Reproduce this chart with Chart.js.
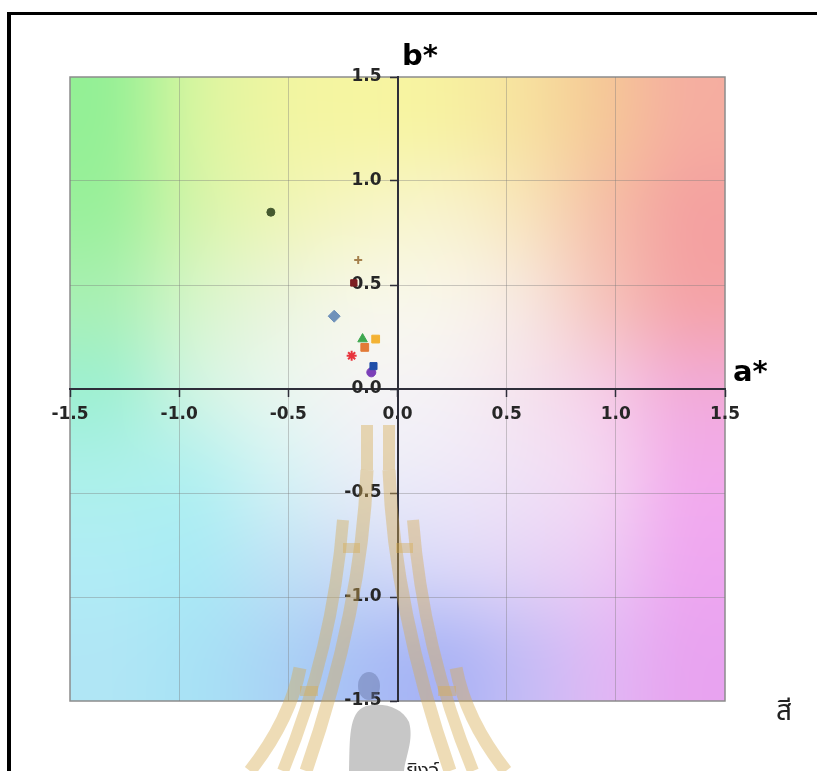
<!DOCTYPE html>
<html>
<head>
<meta charset="utf-8">
<script src="https://cdn.jsdelivr.net/npm/chart.js@4.4.1/dist/chart.umd.min.js"></script>
<style>
  html, body { margin: 0; padding: 0; background: #fff; overflow: hidden; }
  #wrap { position: relative; width: 817px; height: 771px; }
  #chart { position: absolute; left: 0; top: 0; }
  #frame { position: absolute; left: 7px; top: 12px; width: 900px; height: 900px;
           border-left: 4px solid #000; border-top: 3px solid #000; }
  .axname { position: absolute; font-family: "DejaVu Sans", Verdana, sans-serif;
            font-weight: bold; font-size: 29px; line-height: 1; color: #000; }
  .thai { position: absolute; font-family: "Noto Sans Thai", "Noto Sans", "DejaVu Sans", sans-serif;
          color: #222; line-height: 1; }
</style>
</head>
<body>
<div id="wrap">
  <canvas id="chart" width="817" height="771"></canvas>
  <div id="frame"></div>
  <div class="axname" style="left:402px; top:41px;">b*</div>
  <div class="axname" style="left:733px; top:357px;">a*</div>
  <div class="thai" style="left:776px; top:698px; font-size:28px;">สี</div>
  <div class="thai" style="left:406px; top:761px; font-size:20px;">ยิงจ์</div>
</div>
<script>
// a*, b* values of each sample
var aValues = [-0.58, -0.18, -0.20, -0.29, -0.15, -0.16, -0.10, -0.21, -0.11, -0.12];
var bValues = [0.85, 0.62, 0.51, 0.35, 0.20, 0.24, 0.24, 0.16, 0.11, 0.08];
var tickValues = [-1.5, -1.0, -0.5, 0.0, 0.5, 1.0, 1.5];

// marker look, one per sample
var markerColors = ['#45592f', '#a5804c', '#7d1f22', '#7092ba', '#e27b37', '#3ea84f', '#f3b233', '#e8343c', '#1f4ea8', '#7b3fb8'];
var markerShapes = ['circle', 'cross', 'rect', 'rectRot', 'rect', 'triangle', 'rect', 'star', 'rect', 'circle'];
var markerSizes = [4, 4, 4.5, 6, 5.5, 5.5, 5.5, 5, 5, 4.5];

// colour field behind the plot (rows top -> bottom, cols left -> right)
var bgColors = [
  ['#96f096', '#d6f5a0', '#eff5a2', '#f6f5a2', '#f7f2a2', '#f7e2a0', '#f5c898', '#f5aea0'],
  ['#9cf09c', '#d3f4aa', '#edf5b5', '#f6f5c4', '#f8f3cc', '#f8e5bc', '#f5c0a8', '#f4a2a0'],
  ['#aaf0b4', '#d5f5c8', '#eaf5da', '#f6f7e8', '#f9f6ea', '#f7e8e0', '#f5c4bc', '#f4a4a8'],
  ['#a0f0d2', '#cff4e2', '#e8f6ee', '#f4f4f4', '#f5f1f5', '#f5e4ee', '#f5cde6', '#f2acd8'],
  ['#acf0ea', '#b2f0f0', '#d2f2f4', '#e8eef7', '#eee9f8', '#f0e2f6', '#f4d4f2', '#f2acec'],
  ['#b0ecf5', '#aaeaf5', '#bde2f5', '#ccdaf6', '#dad8f8', '#e4d4f6', '#ecc8f4', '#eea8f0'],
  ['#b0e6f5', '#a8e2f5', '#aad4f5', '#aac0f5', '#aab4f5', '#c4bcf5', '#e0b8f4', '#e8a4f0']
];

function hexRgb(h){
  return [parseInt(h.substr(1,2),16), parseInt(h.substr(3,2),16), parseInt(h.substr(5,2),16)];
}

var bgCanvas = document.createElement('canvas');
bgCanvas.width = bgColors[0].length;
bgCanvas.height = bgColors.length;
(function(){
  var c = bgCanvas.getContext('2d');
  var img = c.createImageData(bgCanvas.width, bgCanvas.height);
  for (var r = 0; r < bgColors.length; r++) {
    for (var k = 0; k < bgColors[r].length; k++) {
      var rgb = hexRgb(bgColors[r][k]);
      var i = (r * bgCanvas.width + k) * 4;
      img.data[i] = rgb[0]; img.data[i+1] = rgb[1]; img.data[i+2] = rgb[2]; img.data[i+3] = 255;
    }
  }
  c.putImageData(img, 0, 0);
})();

var plotBackground = {
  id: 'plotBackground',
  beforeDraw: function(chart){
    var ctx = chart.ctx, a = chart.chartArea;
    ctx.save();
    ctx.imageSmoothingEnabled = true;
    ctx.imageSmoothingQuality = 'high';
    ctx.drawImage(bgCanvas, a.left, a.top, a.right - a.left, a.bottom - a.top);
    ctx.strokeStyle = '#8c8c8c';
    ctx.lineWidth = 1.5;
    ctx.strokeRect(a.left, a.top, a.right - a.left, a.bottom - a.top);
    ctx.restore();
  }
};

// faint logo stamped over the page
function leg(ctx, x0, y0, cx, cy, x1, y1, w){
  ctx.lineWidth = w;
  ctx.beginPath();
  ctx.moveTo(x0, y0);
  ctx.quadraticCurveTo(cx, cy, x1, y1);
  ctx.stroke();
}
var watermark = {
  id: 'watermark',
  afterDraw: function(chart){
    var ctx = chart.ctx;
    var mid = 378;
    ctx.save();
    ctx.strokeStyle = 'rgba(214,172,80,0.42)';
    ctx.fillStyle = 'rgba(214,172,80,0.42)';
    ctx.lineCap = 'butt';
    [-1, 1].forEach(function(s){
      function X(dx){ return mid + s * dx; }
      leg(ctx, X(11), 425, X(11), 440, X(11), 470, 12);
      leg(ctx, X(11), 470, X(16), 610, X(72), 771, 13);
      leg(ctx, X(35), 520, X(45), 650, X(95), 771, 12);
      leg(ctx, X(78), 668, X(88), 720, X(128), 771, 13);
      ctx.fillRect(Math.min(X(35), X(18)), 543, 17, 10);
      ctx.fillRect(Math.min(X(78), X(60)), 686, 18, 10);
    });
    ctx.fillStyle = 'rgba(100,115,165,0.45)';
    ctx.beginPath();
    ctx.ellipse(369, 686, 11, 14, 0, 0, Math.PI * 2);
    ctx.fill();
    ctx.fillStyle = 'rgba(185,185,185,0.8)';
    ctx.beginPath();
    ctx.moveTo(349, 771);
    ctx.bezierCurveTo(350, 740, 348, 712, 366, 706);
    ctx.bezierCurveTo(385, 702, 402, 708, 409, 722);
    ctx.bezierCurveTo(414, 740, 406, 755, 404, 771);
    ctx.closePath();
    ctx.fill();
    ctx.restore();
  }
};

var datasets = [];
for (var i = 0; i < aValues.length; i++) {
  datasets.push({
    data: [{x: aValues[i], y: bValues[i]}],
    pointStyle: markerShapes[i],
    pointRadius: markerSizes[i],
    pointBackgroundColor: markerColors[i],
    pointBorderColor: markerColors[i],
    pointBorderWidth: (markerShapes[i] == 'star' || markerShapes[i] == 'cross') ? 2 : 1
  });
}

var tickFont = {family: '"DejaVu Sans", Verdana, sans-serif', size: 17, weight: 'bold'};
var gridColor = function(c){
  var v = c.tick ? c.tick.value : null;
  if (v === 0 || v === -1.5 || v === 1.5) return 'rgba(0,0,0,0)';
  return 'rgba(120,120,120,0.38)';
};
function axis(pos, pad){
  return {
    type: 'linear', min: -1.5, max: 1.5, position: pos,
    afterBuildTicks: function(ax){ ax.ticks = tickValues.map(function(v){ return {value: v}; }); },
    ticks: {
      font: tickFont, color: '#262626', padding: pad, autoSkip: false, maxRotation: 0,
      callback: function(v){ return Number(v).toFixed(1); }
    },
    grid: {color: gridColor, lineWidth: 1, tickLength: 7, tickColor: '#2e2e3a', tickWidth: 1.5},
    border: {display: true, color: '#2e2e3a', width: 2}
  };
}
var xAxis = axis({y: 0}, 8);
var yAxis = axis('center', 9);
yAxis.z = 1;

var ctx = document.getElementById('chart').getContext('2d');
var myChart = new Chart(ctx, {
  type: 'scatter',
  data: {datasets: datasets},
  options: {
    responsive: false,
    animation: false,
    devicePixelRatio: 1,
    layout: {padding: {left: 70, top: 77, right: 92, bottom: 70}},
    plugins: {legend: {display: false}, tooltip: {enabled: false}},
    scales: {x: xAxis, y: yAxis}
  },
  plugins: [plotBackground, watermark]
});
</script>
</body>
</html>
